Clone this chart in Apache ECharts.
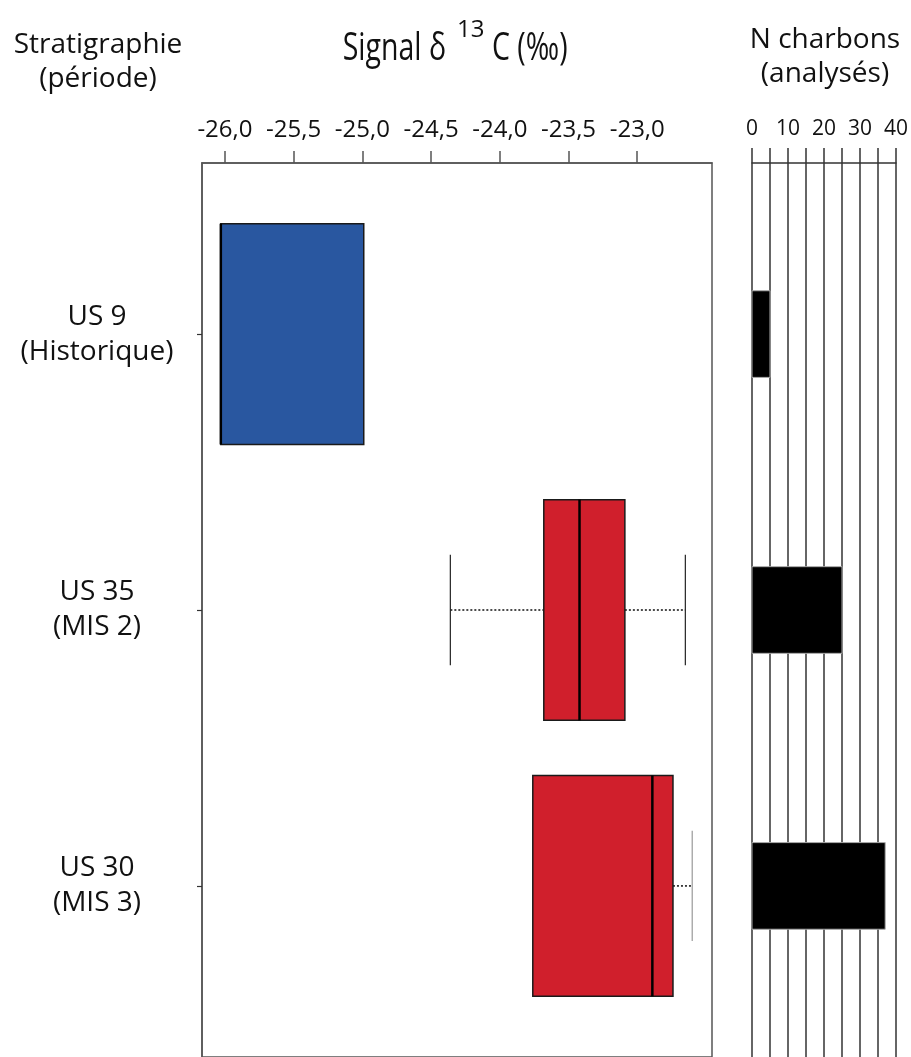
<!DOCTYPE html>
<html><head><meta charset="utf-8">
<script src="https://cdn.jsdelivr.net/npm/echarts@6/dist/echarts.min.js"></script>
<style>html,body{margin:0;padding:0;background:#fff}#c{width:911px;height:1057px}</style>
</head><body><div id="c"></div>
<script>
// ---- data ----
const categories = ['US 9\n(Historique)', 'US 35\n(MIS 2)', 'US 30\n(MIS 3)'];
const positions = [1, 2, 3];
// [min, Q1, median, Q3, max] of δ13C (‰)
const statsUS9 = [-26.03, -26.03, -26.03, -24.99, -24.99];
const statsUS35 = [-24.36, -23.68, -23.42, -23.09, -22.65];
const statsUS30 = [-23.76, -23.76, -22.89, -22.74, -22.60];
const nCharbons = [5, 25, 37];
const deltaTicks = [-26, -25.5, -25, -24.5, -24, -23.5, -23];
const countTicks = [0, 10, 20, 30, 40];

const boxColors = ['#2957a0', '#d01f2c', '#d01f2c'];
const capColors = ['#222', '#222', '#999'];
const FONT = 'Open Sans';

const allStats = [statsUS9, statsUS35, statsUS30];
const boxData = allStats.map((s, i) => [positions[i]].concat(s));
const barData = nCharbons.map((n, i) => [positions[i], n]);

const chart = echarts.init(document.getElementById('c'), null, {renderer: 'canvas'});

function renderBox(params, api) {
  const y = api.value(0);
  const mn = api.value(1), q1 = api.value(2), md = api.value(3), q3 = api.value(4), mx = api.value(5);
  const half = api.size([0, 0.4])[1];
  const capHalf = api.size([0, 0.2])[1];
  const P = v => api.coord([v, y]);
  const i = params.dataIndex;
  const children = [];
  const pMn = P(mn), pQ1 = P(q1), pMd = P(md), pQ3 = P(q3), pMx = P(mx);
  const cy = pQ1[1];
  if (mn < q1) {
    children.push({type: 'line', shape: {x1: pMn[0], y1: cy, x2: pQ1[0], y2: cy}, style: {stroke: '#111', lineWidth: 1.5, lineDash: [2, 2]}});
    children.push({type: 'line', shape: {x1: pMn[0], y1: cy - capHalf, x2: pMn[0], y2: cy + capHalf}, style: {stroke: capColors[i], lineWidth: 1.2}});
  }
  if (mx > q3) {
    children.push({type: 'line', shape: {x1: pQ3[0], y1: cy, x2: pMx[0], y2: cy}, style: {stroke: '#111', lineWidth: 1.5, lineDash: [2, 2]}});
    children.push({type: 'line', shape: {x1: pMx[0], y1: cy - capHalf, x2: pMx[0], y2: cy + capHalf}, style: {stroke: capColors[i], lineWidth: 1.2}});
  }
  children.push({type: 'rect', shape: {x: pQ1[0], y: cy - half, width: pQ3[0] - pQ1[0], height: 2 * half},
    style: {fill: boxColors[i], stroke: '#1a1a1a', lineWidth: 1.5}});
  children.push({type: 'line', shape: {x1: pMd[0], y1: cy - half, x2: pMd[0], y2: cy + half}, style: {stroke: '#000', lineWidth: 2.5}});
  return {type: 'group', children};
}

function renderBar(params, api) {
  const y = api.value(0), n = api.value(1);
  const half = api.size([0, 0.157])[1];
  const p0 = api.coord([0, y]), p1 = api.coord([n, y]);
  return {type: 'rect', shape: {x: p0[0], y: p0[1] - half, width: p1[0] - p0[0], height: 2 * half},
    style: {fill: '#000', stroke: '#aaa', lineWidth: 1}};
}

const yBase = {type: 'value', min: 0.38, max: 3.62, inverse: true};

chart.setOption({
  animation: false,
  backgroundColor: '#fff',
  grid: [
    {left: 202, top: 163, width: 510, height: 897.5, show: true, borderColor: '#555', borderWidth: 1.5, backgroundColor: 'transparent'},
    {left: 752, top: 163, width: 144, height: 897.5}
  ],
  xAxis: [
    {gridIndex: 0, type: 'value', position: 'top', min: -26.167, max: -22.456,
      axisLine: {show: true, lineStyle: {color: '#555', width: 1.5}},
      axisTick: {show: true, inside: false, length: 12, customValues: deltaTicks, lineStyle: {color: '#555', width: 1.5}},
      axisLabel: {show: true, customValues: deltaTicks, margin: 21, fontFamily: FONT, fontSize: 24, color: '#111',
        formatter: v => v.toFixed(1).replace('.', ',')},
      splitLine: {show: false}},
    {gridIndex: 1, type: 'value', position: 'top', min: 0, max: 40, interval: 5,
      axisLine: {show: true, lineStyle: {color: '#333', width: 1.5}},
      axisTick: {show: true, inside: false, length: 15, lineStyle: {color: '#333', width: 1.5}},
      axisLabel: {show: true, customValues: countTicks, margin: 23, fontFamily: FONT, fontSize: 21, color: '#111'},
      splitLine: {show: true, lineStyle: {color: '#333', width: 1.5}}}
  ],
  yAxis: [
    Object.assign({gridIndex: 0,
      axisLine: {show: true, lineStyle: {color: '#555', width: 1.5}},
      axisTick: {show: true, inside: false, length: 5, customValues: positions, lineStyle: {color: '#333', width: 1.2}},
      axisLabel: {show: true, customValues: positions, margin: 105, align: 'center', fontFamily: FONT, fontSize: 28,
        lineHeight: 35, color: '#111', formatter: v => categories[Math.round(v) - 1]},
      splitLine: {show: false}}, yBase),
    Object.assign({gridIndex: 1, show: false, splitLine: {show: false}}, yBase)
  ],
  series: [
    {type: 'custom', xAxisIndex: 0, yAxisIndex: 0, data: boxData, encode: {x: [1, 2, 3, 4, 5], y: 0}, renderItem: renderBox, clip: false},
    {type: 'custom', xAxisIndex: 1, yAxisIndex: 1, data: barData, encode: {x: 1, y: 0}, renderItem: renderBar, z: 5}
  ],
  graphic: [
    {type: 'text', x: 98, y: 62, style: {text: 'Stratigraphie\n(période)', font: '28px "Open Sans"', lineHeight: 34, fill: '#111', align: 'center', verticalAlign: 'middle'}},
    {type: 'text', x: 825, y: 57, style: {text: 'N charbons\n(analysés)', font: '28px "Open Sans"', lineHeight: 34, fill: '#111', align: 'center', verticalAlign: 'middle'}},
    {type: 'text', x: 446, y: 49, scaleX: 0.75, style: {text: 'Signal δ', font: '38px "Open Sans"', fill: '#111', align: 'right', verticalAlign: 'middle'}},
    {type: 'text', x: 457, y: 30, style: {text: '13', font: '24px "Open Sans"', fill: '#111', align: 'left', verticalAlign: 'middle'}},
    {type: 'text', x: 492, y: 49, scaleX: 0.75, style: {text: 'C (‰)', font: '38px "Open Sans"', fill: '#111', align: 'left', verticalAlign: 'middle'}}
  ]
});
</script></body></html>
